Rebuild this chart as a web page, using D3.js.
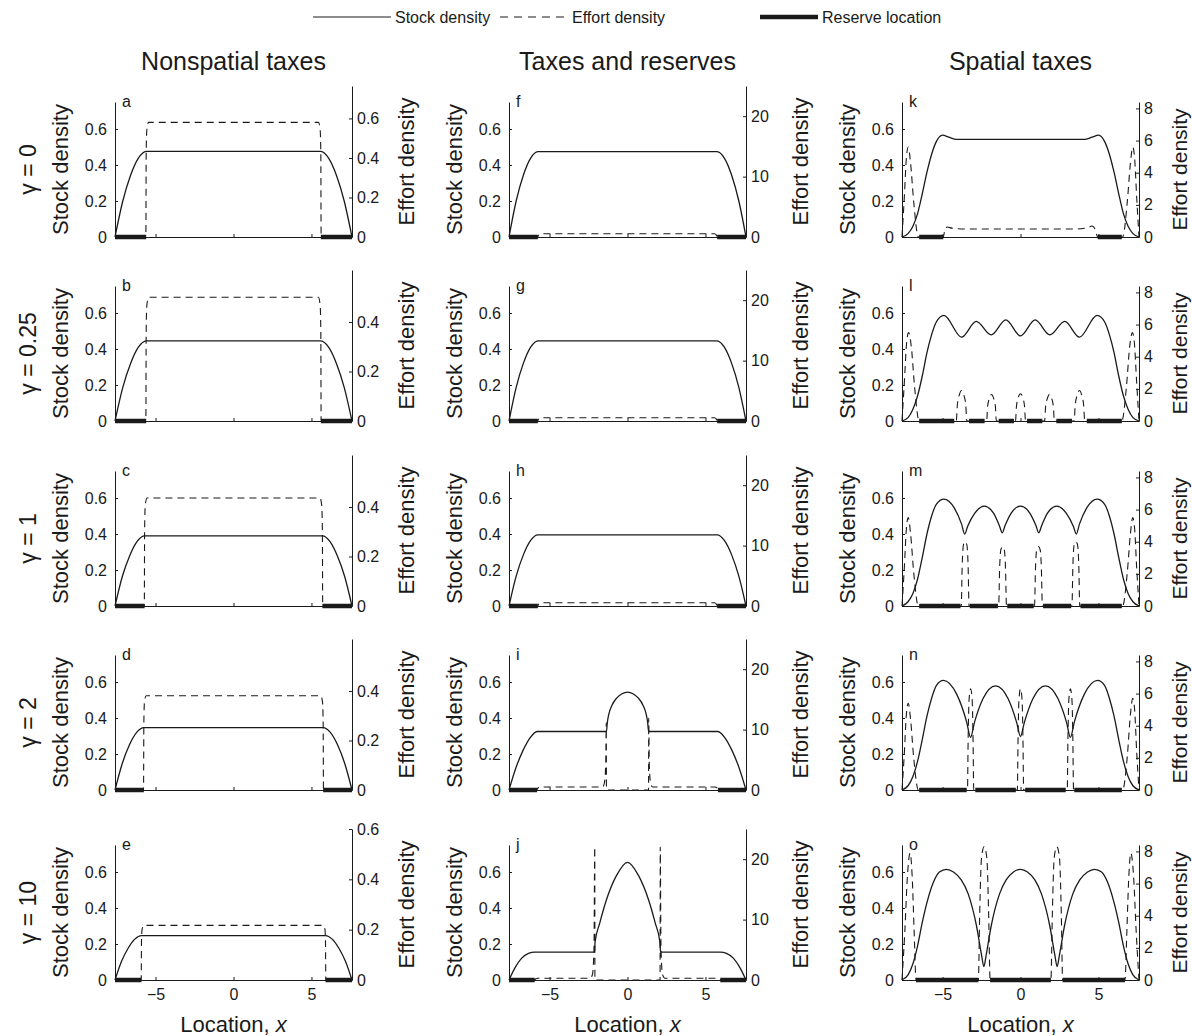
<!DOCTYPE html>
<html>
<head>
<meta charset="utf-8">
<script src="https://cdn.jsdelivr.net/npm/d3@7"></script>
<style>
  body { margin: 0; background: #fff; }
  svg { display: block; font-family: "Liberation Sans", Arial, Helvetica, sans-serif; }
</style>
</head>
<body>
<script>
// ---- data: [x, value] pairs ----
// Nonspatial taxes (a-e)
const stockA = [[-7.6,0],[-7.1,0.2],[-6.6,0.343],[-6.1,0.438],[-5.6,0.476],[5.6,0.476],[6.1,0.438],[6.6,0.343],[7.1,0.2],[7.6,0]];
const effortA = [[-7.6,0],[-5.62,0],[-5.6,0.42],[-5.56,0.54],[-5.45,0.58],[5.45,0.58],[5.56,0.54],[5.6,0.42],[5.62,0],[7.6,0]];
const reserveA = [[-7.6,-5.6],[5.6,7.6]];

const stockB = [[-7.6,0],[-7.1,0.187],[-6.6,0.32],[-6.1,0.41],[-5.6,0.445],[5.6,0.445],[6.1,0.41],[6.6,0.32],[7.1,0.187],[7.6,0]];
const effortB = [[-7.6,0],[-5.62,0],[-5.6,0.36],[-5.56,0.465],[-5.45,0.5],[5.45,0.5],[5.56,0.465],[5.6,0.36],[5.62,0],[7.6,0]];
const reserveB = [[-7.6,-5.6],[5.6,7.6]];

const stockC = [[-7.6,0],[-7.13,0.164],[-6.65,0.281],[-6.18,0.359],[-5.7,0.39],[5.7,0.39],[6.18,0.359],[6.65,0.281],[7.13,0.164],[7.6,0]];
const effortC = [[-7.6,0],[-5.72,0],[-5.7,0.31],[-5.66,0.405],[-5.55,0.436],[5.55,0.436],[5.66,0.405],[5.7,0.31],[5.72,0],[7.6,0]];
const reserveC = [[-7.6,-5.7],[5.7,7.6]];

const stockD = [[-7.6,0],[-7.14,0.146],[-6.68,0.25],[-6.21,0.32],[-5.75,0.347],[5.75,0.347],[6.21,0.32],[6.68,0.25],[7.14,0.146],[7.6,0]];
const effortD = [[-7.6,0],[-5.77,0],[-5.75,0.27],[-5.71,0.355],[-5.6,0.381],[5.6,0.381],[5.71,0.355],[5.75,0.27],[5.77,0],[7.6,0]];
const reserveD = [[-7.6,-5.75],[5.75,7.6]];

const stockE = [[-7.6,0],[-7.18,0.104],[-6.75,0.178],[-6.33,0.227],[-5.9,0.247],[5.9,0.247],[6.33,0.227],[6.75,0.178],[7.18,0.104],[7.6,0]];
const effortE = [[-7.6,0],[-5.92,0],[-5.9,0.155],[-5.86,0.203],[-5.75,0.217],[5.75,0.217],[5.86,0.203],[5.9,0.155],[5.92,0],[7.6,0]];
const reserveE = [[-7.6,-5.9],[5.9,7.6]];

// Taxes and reserves (f-j)
const stockF = [[-7.6,0],[-7.14,0.2],[-6.68,0.343],[-6.21,0.438],[-5.75,0.474],[5.75,0.474],[6.21,0.438],[6.68,0.343],[7.14,0.2],[7.6,0]];
const effortF = [[-7.6,0],[-5.77,0],[-5.7,0.3],[-5.58,0.55],[5.58,0.55],[5.7,0.3],[5.77,0],[7.6,0]];
const reserveF = [[-7.6,-5.75],[5.75,7.6]];

const stockG = [[-7.6,0],[-7.14,0.187],[-6.68,0.32],[-6.21,0.41],[-5.75,0.445],[5.75,0.445],[6.21,0.41],[6.68,0.32],[7.14,0.187],[7.6,0]];
const effortG = [[-7.6,0],[-5.77,0],[-5.7,0.3],[-5.58,0.55],[5.58,0.55],[5.7,0.3],[5.77,0],[7.6,0]];
const reserveG = [[-7.6,-5.75],[5.75,7.6]];

const stockH = [[-7.6,0],[-7.14,0.166],[-6.68,0.284],[-6.21,0.364],[-5.75,0.395],[5.75,0.395],[6.21,0.364],[6.68,0.284],[7.14,0.166],[7.6,0]];
const effortH = [[-7.6,0],[-5.77,0],[-5.7,0.3],[-5.58,0.55],[5.58,0.55],[5.7,0.3],[5.77,0],[7.6,0]];
const reserveH = [[-7.6,-5.75],[5.75,7.6]];

const stockI = [[-7.6,0],[-7.15,0.125],[-6.7,0.22],[-6.25,0.29],[-5.8,0.325],[-1.35,0.325],[-1.3,0.37],[-1.2,0.42],[-1.0,0.47],[-0.7,0.51],[-0.35,0.535],[0,0.544],[0.35,0.535],[0.7,0.51],[1.0,0.47],[1.2,0.42],[1.3,0.37],[1.35,0.325],[5.8,0.325],[6.25,0.29],[6.7,0.22],[7.15,0.125],[7.6,0]];
const effortI = [[-7.6,0],[-5.82,0],[-5.75,0.3],[-5.62,0.5],[-1.6,0.5],[-1.48,1.2],[-1.4,4],[-1.36,11.1],[-1.35,0],[1.35,0],[1.36,11.9],[1.4,4],[1.48,1.2],[1.6,0.5],[5.62,0.5],[5.75,0.3],[5.82,0],[7.6,0]];
const reserveI = [[-7.6,-5.8],[5.8,7.6]];

const stockJ = [[-7.6,0],[-7.2,0.07],[-6.8,0.12],[-6.35,0.148],[-5.95,0.155],[-2.12,0.155],[-2.08,0.21],[-1.78,0.316],[-1.35,0.446],[-0.71,0.58],[0,0.654],[0.71,0.58],[1.35,0.446],[1.78,0.316],[2.08,0.21],[2.12,0.155],[5.95,0.155],[6.35,0.148],[6.8,0.12],[7.2,0.07],[7.6,0]];
const effortJ = [[-7.6,0],[-5.97,0],[-5.88,0.2],[-5.75,0.3],[-2.4,0.3],[-2.25,0.9],[-2.15,5],[-2.1,22],[-2.09,0],[2.09,0],[2.1,22],[2.15,5],[2.25,0.9],[2.4,0.3],[5.75,0.3],[5.88,0.2],[5.97,0],[7.6,0]];
const reserveJ = [[-7.6,-5.95],[5.95,7.6]];

// Spatial taxes (k-o)
const stockK = [[-7.6,0],[-7.2,0.02],[-6.9,0.06],[-6.6,0.13],[-6.3,0.24],[-6.0,0.36],[-5.7,0.46],[-5.4,0.53],[-5.0,0.566],[-4.6,0.555],[-4.1,0.542],[4.1,0.542],[4.6,0.555],[5.0,0.566],[5.4,0.53],[5.7,0.46],[6.0,0.36],[6.3,0.24],[6.6,0.13],[6.9,0.06],[7.2,0.02],[7.6,0]];
const effortK = [[-7.6,0],[-7.45,2.5],[-7.32,4.9],[-7.2,5.6],[-7.05,4.6],[-6.85,2.2],[-6.55,0],[-4.95,0],[-4.85,0.45],[-4.7,0.62],[-4.4,0.55],[-3.6,0.5],[3.6,0.5],[4.3,0.58],[4.6,0.68],[4.8,0.45],[4.95,0],[6.55,0],[6.85,2.2],[7.05,4.6],[7.2,5.6],[7.32,4.9],[7.45,2.5],[7.6,0]];
const reserveK = [[-6.5,-4.95],[4.95,6.5]];

const stockL = [[-7.6,0],[-7.2,0.02],[-6.9,0.065],[-6.6,0.14],[-6.3,0.25],[-6.0,0.38],[-5.7,0.48],[-5.4,0.55],[-4.91,0.587],[-3.78,0.466],[-2.84,0.553],[-1.88,0.478],[-0.94,0.562],[0,0.473],[0.94,0.562],[1.88,0.478],[2.84,0.553],[3.78,0.466],[4.91,0.587],[5.4,0.55],[5.7,0.48],[6.0,0.38],[6.3,0.25],[6.6,0.14],[6.9,0.065],[7.2,0.02],[7.6,0]];
const effortL = [[-7.6,0],[-7.45,2.4],[-7.3,4.9],[-7.18,5.5],[-7.0,4.6],[-6.8,2.2],[-6.5,0],
  [-4.12,0],[-4.05,1.0],[-3.93,1.6],[-3.78,1.9],[-3.63,1.6],[-3.51,1.0],[-3.44,0],
  [-2.17,0],[-2.11,0.9],[-2.0,1.4],[-1.86,1.65],[-1.72,1.4],[-1.61,0.9],[-1.55,0],
  [-0.32,0],[-0.26,0.9],[-0.15,1.45],[0,1.7],[0.15,1.45],[0.26,0.9],[0.32,0],
  [1.55,0],[1.61,0.9],[1.72,1.4],[1.86,1.65],[2.0,1.4],[2.11,0.9],[2.17,0],
  [3.44,0],[3.51,1.0],[3.63,1.6],[3.78,1.9],[3.93,1.6],[4.05,1.0],[4.12,0],
  [6.5,0],[6.8,2.2],[7.0,4.6],[7.18,5.5],[7.3,4.9],[7.45,2.4],[7.6,0]];
const reserveL = [[-6.5,-4.25],[-3.3,-2.3],[-1.4,-0.42],[0.42,1.4],[2.3,3.3],[4.25,6.5]];

const stockM = [[-7.6,0],[-7.2,0.025],[-6.9,0.07],[-6.6,0.15],[-6.3,0.27],[-6.0,0.40],[-5.7,0.50],[-5.4,0.565],[-4.91,0.594],[-4.25,0.545],[-3.78,0.455],[-3.58,0.40],[-3.38,0.445],[-2.93,0.516],[-2.33,0.555],[-1.73,0.516],[-1.35,0.445],[-1.17,0.407],[-0.99,0.447],[-0.585,0.518],[0,0.555],[0.585,0.518],[0.99,0.447],[1.17,0.407],[1.35,0.445],[1.73,0.516],[2.33,0.555],[2.93,0.516],[3.38,0.445],[3.58,0.40],[3.78,0.455],[4.25,0.545],[4.91,0.594],[5.4,0.565],[5.7,0.50],[6.0,0.40],[6.3,0.27],[6.6,0.15],[6.9,0.07],[7.2,0.025],[7.6,0]];
const effortM = [[-7.6,0],[-7.45,2.4],[-7.32,4.8],[-7.2,5.5],[-7.05,4.5],[-6.85,2.1],[-6.55,0],
  [-3.8,0],[-3.74,2.5],[-3.66,3.8],[-3.55,4.0],[-3.44,3.8],[-3.36,2.5],[-3.3,0],
  [-1.4,0],[-1.34,2.3],[-1.26,3.5],[-1.15,3.7],[-1.04,3.5],[-0.96,2.3],[-0.9,0],
  [0.9,0],[0.96,2.3],[1.04,3.5],[1.15,3.7],[1.26,3.5],[1.34,2.3],[1.4,0],
  [3.3,0],[3.36,2.5],[3.44,3.8],[3.55,4.0],[3.66,3.8],[3.74,2.5],[3.8,0],
  [6.55,0],[6.85,2.1],[7.05,4.5],[7.2,5.5],[7.32,4.8],[7.45,2.4],[7.6,0]];
const reserveM = [[-6.5,-3.85],[-3.25,-1.45],[-0.85,0.85],[1.45,3.25],[3.85,6.5]];

const stockN = [[-7.6,0],[-7.2,0.025],[-6.9,0.075],[-6.6,0.16],[-6.3,0.28],[-6.0,0.41],[-5.7,0.51],[-5.4,0.58],[-4.95,0.609],[-4.08,0.53],[-3.46,0.38],[-3.2,0.293],[-2.96,0.373],[-2.4,0.508],[-1.6,0.579],[-0.8,0.508],[-0.24,0.373],[0,0.297],[0.24,0.373],[0.8,0.508],[1.6,0.579],[2.4,0.508],[2.96,0.373],[3.2,0.293],[3.46,0.38],[4.08,0.53],[4.95,0.609],[5.4,0.58],[5.7,0.51],[6.0,0.41],[6.3,0.28],[6.6,0.16],[6.9,0.075],[7.2,0.025],[7.6,0]];
const effortN = [[-7.6,0],[-7.45,2.3],[-7.32,4.7],[-7.2,5.4],[-7.05,4.4],[-6.85,2.0],[-6.55,0],
  [-3.4,0],[-3.36,3.0],[-3.3,5.6],[-3.2,6.3],[-3.1,5.6],[-3.04,3.0],[-3.0,0],
  [-0.2,0],[-0.16,3.0],[-0.1,5.6],[0,6.3],[0.1,5.6],[0.16,3.0],[0.2,0],
  [3.0,0],[3.04,3.0],[3.1,5.6],[3.2,6.3],[3.3,5.6],[3.36,3.0],[3.4,0],
  [6.55,0],[6.85,2.1],[7.05,4.7],[7.2,5.7],[7.32,5.0],[7.45,2.4],[7.6,0]];
const reserveN = [[-6.5,-3.45],[-2.9,-0.3],[0.3,2.9],[3.45,6.5]];

const stockO = [[-7.6,0],[-7.2,0.03],[-6.9,0.09],[-6.6,0.19],[-6.3,0.32],[-6.0,0.43],[-5.6,0.54],[-5.2,0.60],[-4.75,0.615],[-4.3,0.60],[-3.8,0.556],[-3.35,0.477],[-2.82,0.30],[-2.5,0.14],[-2.35,0.075],[-2.2,0.14],[-1.88,0.30],[-1.35,0.477],[-0.92,0.556],[-0.45,0.60],[0,0.615],[0.45,0.60],[0.92,0.556],[1.35,0.477],[1.88,0.30],[2.2,0.14],[2.35,0.075],[2.5,0.14],[2.82,0.30],[3.35,0.477],[3.8,0.556],[4.3,0.60],[4.75,0.615],[5.2,0.60],[5.6,0.54],[6.0,0.43],[6.3,0.32],[6.6,0.19],[6.9,0.09],[7.2,0.03],[7.6,0]];
const effortO = [[-7.6,0],[-7.42,3.0],[-7.25,6.5],[-7.08,7.9],[-6.95,6.5],[-6.82,3.0],[-6.7,0],
  [-2.7,0],[-2.62,4.0],[-2.5,7.6],[-2.33,8.3],[-2.16,7.6],[-2.04,4.0],[-1.95,0],
  [1.95,0],[2.04,4.0],[2.16,7.6],[2.33,8.3],[2.5,7.6],[2.62,4.0],[2.7,0],
  [6.7,0],[6.82,3.0],[6.95,6.5],[7.08,7.9],[7.25,6.5],[7.42,3.0],[7.6,0]];
const reserveO = [[-6.7,-2.7],[-1.95,1.95],[2.7,6.7]];

// ---- labels and axis settings ----
const colTitles = ["Nonspatial taxes", "Taxes and reserves", "Spatial taxes"];
const gammaLabels = ["γ = 0", "γ = 0.25", "γ = 1", "γ = 2", "γ = 10"];
const panelLetters = ["a","b","c","d","e","f","g","h","i","j","k","l","m","n","o"];
const xDomain = [-7.6, 7.6];
const xTicks = [-5, 0, 5];
const leftTicks = [0, 0.2, 0.4, 0.6];
const rightMax = [0.764, 0.61, 0.61, 0.61, 0.6, 25, 25, 25, 25, 25, 8.4, 8.4, 8.4, 8.4, 8.4];
const rightTicks = [
  [0,0.2,0.4,0.6],[0,0.2,0.4],[0,0.2,0.4],[0,0.2,0.4],[0,0.2,0.4,0.6],
  [0,10,20],[0,10,20],[0,10,20],[0,10,20],[0,10,20],
  [0,2,4,6,8],[0,2,4,6,8],[0,2,4,6,8],[0,2,4,6,8],[0,2,4,6,8]
];

const stocks = [stockA, stockB, stockC, stockD, stockE, stockF, stockG, stockH, stockI, stockJ, stockK, stockL, stockM, stockN, stockO];
const efforts = [effortA, effortB, effortC, effortD, effortE, effortF, effortG, effortH, effortI, effortJ, effortK, effortL, effortM, effortN, effortO];
const reserves = [reserveA, reserveB, reserveC, reserveD, reserveE, reserveF, reserveG, reserveH, reserveI, reserveJ, reserveK, reserveL, reserveM, reserveN, reserveO];

// ---- layout ----
const width = 1192, height = 1036;
const colLeft = [115, 509, 902];
const rowBase = [237, 421, 606, 790, 980];
const plotW = 237, plotH = 135;
const rightH = [151, 151, 135];
const ink = "#1a1a1a";

const svg = d3.select("body").append("svg")
    .attr("width", width)
    .attr("height", height)
    .attr("viewBox", [0, 0, width, height])
    .style("color", ink);

const fmt = d => d === 0 ? "0" : (Number.isInteger(d) ? String(d) : d.toFixed(1));

// Legend
const legend = svg.append("g").attr("font-size", 16).attr("fill", ink);
const legItems = [
  { x: 313, len: 78, label: "Stock density", dash: null, w: 1.2 },
  { x: 500, len: 68, label: "Effort density", dash: "8,6", w: 1.1 },
  { x: 760, len: 58, label: "Reserve location", dash: null, w: 4.5 }
];
legItems.forEach(it => {
  legend.append("line")
      .attr("x1", it.x).attr("x2", it.x + it.len)
      .attr("y1", 17).attr("y2", 17)
      .attr("stroke", ink).attr("stroke-width", it.w)
      .attr("stroke-dasharray", it.dash);
  legend.append("text")
      .attr("x", it.x + it.len + 4).attr("y", 23)
      .text(it.label);
});

// Column titles
colTitles.forEach((t, c) => {
  svg.append("text")
      .attr("x", colLeft[c] + plotW / 2).attr("y", 70)
      .attr("text-anchor", "middle")
      .attr("font-size", 25)
      .attr("fill", ink)
      .text(t);
});

// Row labels
gammaLabels.forEach((t, r) => {
  const cy = rowBase[r] - plotH / 2;
  svg.append("text")
      .attr("transform", `translate(28,${cy}) rotate(-90)`)
      .attr("text-anchor", "middle")
      .attr("dominant-baseline", "central")
      .attr("font-size", 23)
      .attr("fill", ink)
      .text(t);
});

stocks.forEach((stock, i) => {
  const col = Math.floor(i / 5), row = i % 5;
  const x0 = colLeft[col], y0 = rowBase[row];

  const x = d3.scaleLinear().domain(xDomain).range([x0, x0 + plotW]);
  const yL = d3.scaleLinear().domain([0, 0.75]).range([y0, y0 - plotH]);
  const yR = d3.scaleLinear().domain([0, rightMax[i]]).range([y0, y0 - rightH[col]]);

  const g = svg.append("g");

  // left axis
  g.append("g")
      .attr("transform", `translate(${x0},0)`)
      .call(d3.axisLeft(yL).tickValues(leftTicks).tickSize(-3).tickSizeOuter(0).tickPadding(8).tickFormat(fmt))
      .call(a => a.attr("font-size", 16).attr("font-family", null));

  // right axis
  g.append("g")
      .attr("transform", `translate(${x0 + plotW},0)`)
      .call(d3.axisRight(yR).tickValues(rightTicks[i]).tickSize(-3).tickSizeOuter(0).tickPadding(5).tickFormat(fmt))
      .call(a => a.attr("font-size", 16).attr("font-family", null));

  // bottom axis
  const bottom = g.append("g")
      .attr("transform", `translate(0,${y0})`)
      .call(d3.axisBottom(x).tickValues(xTicks).tickSize(-3).tickSizeOuter(0).tickPadding(9))
      .call(a => a.attr("font-size", 16).attr("font-family", null));
  if (row !== 4) bottom.selectAll(".tick text").remove();

  g.selectAll(".domain").attr("stroke-width", 1);
  g.selectAll(".tick line").attr("stroke-width", 1);
  g.selectAll(".tick text").attr("fill", ink);

  // curves
  const stockLine = d3.line().x(d => x(d[0])).y(d => yL(d[1])).curve(d3.curveMonotoneX);
  const effortLine = d3.line().x(d => x(d[0])).y(d => yR(d[1])).curve(d3.curveMonotoneX);

  g.append("path")
      .datum(efforts[i])
      .attr("d", effortLine)
      .attr("fill", "none")
      .attr("stroke", ink)
      .attr("stroke-width", 1.1)
      .attr("stroke-dasharray", "7,5");

  g.append("path")
      .datum(stock)
      .attr("d", stockLine)
      .attr("fill", "none")
      .attr("stroke", ink)
      .attr("stroke-width", 1.3);

  // reserves
  g.selectAll(".reserve")
    .data(reserves[i])
    .join("line")
      .attr("class", "reserve")
      .attr("x1", d => x(d[0])).attr("x2", d => x(d[1]))
      .attr("y1", y0).attr("y2", y0)
      .attr("stroke", ink)
      .attr("stroke-width", 4.5);

  // panel letter
  g.append("text")
      .attr("x", x0 + 7).attr("y", y0 - plotH + 5)
      .attr("font-size", 16)
      .attr("fill", ink)
      .text(panelLetters[i]);

  // axis titles
  g.append("text")
      .attr("transform", `translate(${x0 - 55},${y0 - plotH / 2}) rotate(-90)`)
      .attr("text-anchor", "middle")
      .attr("dominant-baseline", "central")
      .attr("font-size", 22)
      .attr("fill", ink)
      .text("Stock density");

  const rOff = col === 2 ? 40 : 54;
  g.append("text")
      .attr("transform", `translate(${x0 + plotW + rOff},${y0 - rightH[col] / 2}) rotate(-90)`)
      .attr("text-anchor", "middle")
      .attr("dominant-baseline", "central")
      .attr("font-size", col === 2 ? 21 : 22)
      .attr("fill", ink)
      .text("Effort density");

  if (row === 4) {
    const lab = g.append("text")
        .attr("x", x0 + plotW / 2).attr("y", 1032)
        .attr("text-anchor", "middle")
        .attr("font-size", 22)
        .attr("fill", ink);
    lab.append("tspan").text("Location, ");
    lab.append("tspan").attr("font-style", "italic").text("x");
  }
});
</script>
</body>
</html>
